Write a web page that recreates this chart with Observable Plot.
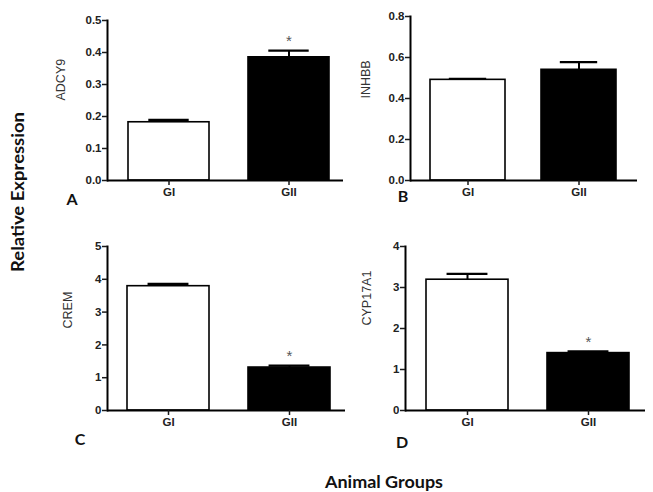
<!DOCTYPE html>
<html>
<head>
<meta charset="utf-8">
<script src="https://cdn.jsdelivr.net/npm/d3@7"></script>
<script src="https://cdn.jsdelivr.net/npm/@observablehq/plot@0.6"></script>
<style>
html, body { margin: 0; padding: 0; background: #fff; }
#wrap { position: relative; width: 653px; height: 492px; overflow: hidden; background: #fff; }
.panel { position: absolute; }
#overlay { position: absolute; left: 0; top: 0; pointer-events: none; }
</style>
</head>
<body>
<div id="wrap"></div>
<script>
// ---- data ----
const groups = ["GI", "GII"];
const fills = ["white", "black"];

const adcy9 = [0.182, 0.385];
const adcy9Err = [0.007, 0.021];
const adcy9Sig = ["", "*"];
const adcy9Ticks = [0, 0.1, 0.2, 0.3, 0.4, 0.5];

const inhbb = [0.491, 0.540];
const inhbbErr = [0.005, 0.037];
const inhbbSig = ["", ""];
const inhbbTicks = [0, 0.2, 0.4, 0.6, 0.8];

const crem = [3.79, 1.31];
const cremErr = [0.07, 0.06];
const cremSig = ["", "*"];
const cremTicks = [0, 1, 2, 3, 4, 5];

const cyp17a1 = [3.19, 1.40];
const cyp17a1Err = [0.14, 0.04];
const cyp17a1Sig = ["", "*"];
const cyp17a1Ticks = [0, 1, 2, 3, 4];

const panelLetters = ["A", "B", "C", "D"];
const yTitle = "Relative  Expression";
const xTitle = "Animal Groups";

// ---- drawing ----
const FONT = "'Liberation Sans', Arial, sans-serif";
const wrap = document.getElementById("wrap");

function makePanel(cfg) {
  const data = groups.map((g, i) => ({
    group: g,
    value: cfg.values[i],
    top: cfg.values[i] + cfg.errs[i],
    sig: cfg.sig[i],
    fill: fills[i]
  }));
  const pi = 0.325, po = 0.16;
  const L = cfg.xRange[1] - cfg.xRange[0];
  const step = L / (groups.length - pi + 2 * po);
  const bw = step * (1 - pi);
  const chart = Plot.plot({
    width: cfg.width,
    height: cfg.height,
    marginLeft: cfg.mL,
    marginRight: cfg.mR,
    marginTop: cfg.mT,
    marginBottom: cfg.mB,
    style: { background: "transparent", overflow: "visible", fontFamily: FONT, color: "#1a1a1a" },
    x: { type: "band", domain: groups, range: cfg.xRange, paddingInner: pi, paddingOuter: po, axis: null },
    y: { domain: [0, cfg.ticks[cfg.ticks.length - 1]], axis: null },
    color: { type: "identity" },
    marks: [
      Plot.barY(data, { x: "group", y: "value", fill: "fill", stroke: "black", strokeWidth: 1.6 }),
      Plot.ruleX(data, { x: "group", y1: "value", y2: "top", stroke: "black", strokeWidth: 2 }),
      Plot.tickY(data, { x: "group", y: "top", stroke: "black", strokeWidth: 2.3, inset: bw / 4 }),
      Plot.text(data.filter(d => d.sig), { x: "group", y: "top", text: "sig", dy: -9, fontSize: 15, fill: "#555", fontFamily: FONT }),
      Plot.ruleY([0], { stroke: "black", strokeWidth: 2 }),
      Plot.frame({ anchor: "left", stroke: "black", strokeWidth: 2 }),
      Plot.axisX({ tickSize: 5, tickPadding: 2, fontSize: 11.5, fontWeight: "bold", fill: "#222", strokeWidth: 1.5, label: null }),
      Plot.axisY({ ticks: cfg.ticks, tickFormat: cfg.fmt, tickSize: 5, tickPadding: 1, fontSize: 11.5, fontWeight: "bold", fill: "#222", strokeWidth: 1.5, label: null }),
      Plot.text([cfg.name], { frameAnchor: "left", rotate: -90, dx: cfg.labelDx, dy: cfg.labelDy || 0, text: d => d, fontSize: 12.5, fill: "#333", fontFamily: FONT })
    ]
  });
  chart.classList.add("panel");
  chart.style.left = cfg.left + "px";
  chart.style.top = cfg.top + "px";
  wrap.appendChild(chart);
}

makePanel({ name: "ADCY9", values: adcy9, errs: adcy9Err, sig: adcy9Sig, ticks: adcy9Ticks, fmt: ".1f",
  left: 0, top: 0, width: 350, height: 200, mL: 107, mR: 7, mT: 20, mB: 20, xRange: [108, 348], labelDx: -47 });
makePanel({ name: "INHBB", values: inhbb, errs: inhbbErr, sig: inhbbSig, ticks: inhbbTicks, fmt: ".1f",
  left: 330, top: 0, width: 323, height: 200, mL: 80, mR: 16, mT: 16, mB: 20, xRange: [82, 304.5], labelDx: -45 });
makePanel({ name: "CREM", values: crem, errs: cremErr, sig: cremSig, ticks: cremTicks, fmt: "d",
  left: 0, top: 220, width: 355, height: 220, mL: 107, mR: 10, mT: 26, mB: 30, xRange: [106.5, 349.5], labelDx: -40 });
makePanel({ name: "CYP17A1", values: cyp17a1, errs: cyp17a1Err, sig: cyp17a1Sig, ticks: cyp17a1Ticks, fmt: "d",
  left: 330, top: 220, width: 323, height: 220, mL: 75, mR: 8, mT: 26, mB: 30, xRange: [75.5, 318.5], labelDx: -39, labelDy: -3 });

// ---- overlay titles and panel letters ----
const NS = "http://www.w3.org/2000/svg";
const ov = document.createElementNS(NS, "svg");
ov.setAttribute("id", "overlay");
ov.setAttribute("width", 653);
ov.setAttribute("height", 492);
wrap.appendChild(ov);
function addText(str, attrs) {
  const t = document.createElementNS(NS, "text");
  for (const k in attrs) t.setAttribute(k, attrs[k]);
  t.textContent = str;
  ov.appendChild(t);
}
const letterPos = [[72, 205], [403, 202], [80, 445], [402, 448]];
panelLetters.forEach((s, i) => addText(s, {
  x: letterPos[i][0], y: letterPos[i][1], "text-anchor": "middle",
  "font-family": "Lato, 'Liberation Sans', sans-serif", "font-weight": 700, "font-size": 16, fill: "#111"
}));
addText(yTitle, {
  transform: "translate(24,192) rotate(-90)", "text-anchor": "middle",
  "font-family": "Lato, 'Liberation Sans', sans-serif", "font-weight": 700, "font-size": 16.5, fill: "#111",
  textLength: 160, lengthAdjust: "spacingAndGlyphs"
});
addText(xTitle, {
  x: 384, y: 488, "text-anchor": "middle",
  "font-family": "Lato, 'Liberation Sans', sans-serif", "font-weight": 700, "font-size": 17, fill: "#111",
  textLength: 118, lengthAdjust: "spacingAndGlyphs"
});
</script>
</body>
</html>
